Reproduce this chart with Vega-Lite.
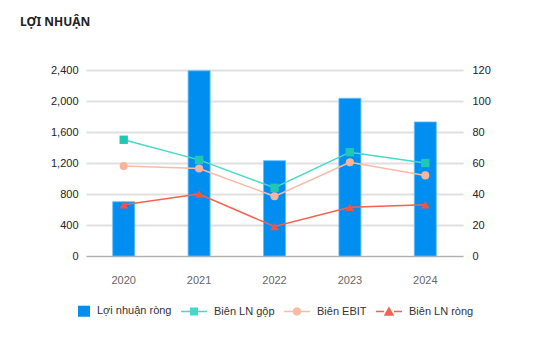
{
  "$schema": "https://vega.github.io/schema/vega-lite/v6.json",
  "width": 377,
  "height": 186,
  "padding": {"left": 20, "top": 16, "right": 10, "bottom": 10},
  "background": "white",
  "title": {"text": "LỢI NHUẬN", "anchor": "start", "frame": "group", "dx": -66, "offset": 35, "font": "Noto Sans", "fontSize": 12, "fontWeight": "bold", "color": "#222222"},
  "config": {"view": {"stroke": null},
    "legend": {"title": null, "orient": "none", "legendX": -8, "legendY": 235, "direction": "horizontal", "padding": 0,
      "symbolSize": 144, "symbolOpacity": 1, "symbolStrokeWidth": 0, "columnPadding": 9, "labelOffset": 7, "labelFont": "Liberation Sans", "labelFontSize": 11, "labelColor": "#333333"}},
  "data": {"values": [
    {"year": "2020", "series": "Lợi nhuận ròng", "value": 700},
    {"year": "2021", "series": "Lợi nhuận ròng", "value": 2390},
    {"year": "2022", "series": "Lợi nhuận ròng", "value": 1230},
    {"year": "2023", "series": "Lợi nhuận ròng", "value": 2035},
    {"year": "2024", "series": "Lợi nhuận ròng", "value": 1730},
    {"year": "2020", "series": "Biên LN gộp", "value": 75},
    {"year": "2021", "series": "Biên LN gộp", "value": 62},
    {"year": "2022", "series": "Biên LN gộp", "value": 44},
    {"year": "2023", "series": "Biên LN gộp", "value": 67},
    {"year": "2024", "series": "Biên LN gộp", "value": 60},
    {"year": "2020", "series": "Biên EBIT", "value": 58},
    {"year": "2021", "series": "Biên EBIT", "value": 56.5},
    {"year": "2022", "series": "Biên EBIT", "value": 38.5},
    {"year": "2023", "series": "Biên EBIT", "value": 60.5},
    {"year": "2024", "series": "Biên EBIT", "value": 52},
    {"year": "2020", "series": "Biên LN ròng", "value": 33},
    {"year": "2021", "series": "Biên LN ròng", "value": 40},
    {"year": "2022", "series": "Biên LN ròng", "value": 19},
    {"year": "2023", "series": "Biên LN ròng", "value": 31.5},
    {"year": "2024", "series": "Biên LN ròng", "value": 33}
  ]},
  "encoding": {
    "x": {"field": "year", "type": "ordinal", "title": null,
      "scale": {"paddingInner": 0, "paddingOuter": 0},
      "axis": {"labelAngle": 0, "ticks": false, "domain": true, "domainColor": "#b0b0b0", "domainWidth": 1, "labelPadding": 18, "labelFont": "Liberation Sans", "labelFontSize": 11, "labelColor": "#666666", "grid": false}}
  },
  "layer": [
    {
      "transform": [{"filter": "datum.series == 'Lợi nhuận ròng'"}],
      "mark": {"type": "bar", "size": 22, "stroke": "#63bdff", "strokeWidth": 0.8},
      "encoding": {
        "y": {"field": "value", "type": "quantitative", "title": null,
          "scale": {"domain": [0, 2400], "nice": false},
          "axis": {"values": [0, 400, 800, 1200, 1600, 2000, 2400], "format": ",.0f", "ticks": false, "domain": false, "gridColor": "#e0e0e0", "gridWidth": 2, "labelPadding": 8, "labelFont": "Liberation Sans", "labelFontSize": 11, "labelColor": "#222222"}},
        "color": {"field": "series", "type": "nominal",
          "scale": {"domain": ["Lợi nhuận ròng", "Biên LN gộp", "Biên EBIT", "Biên LN ròng"], "range": ["#008ff0", "#45d9c8", "#f9bba6", "#f6604f"]}}
      }
    },
    {
      "transform": [{"filter": "datum.series != 'Lợi nhuận ròng'"}],
      "mark": {"type": "line", "strokeWidth": 1.5},
      "encoding": {
        "y": {"field": "value", "type": "quantitative", "title": null,
          "scale": {"domain": [0, 120], "nice": false},
          "axis": {"orient": "right", "values": [0, 20, 40, 60, 80, 100, 120], "ticks": false, "domain": false, "grid": false, "labelPadding": 9, "labelFont": "Liberation Sans", "labelFontSize": 11, "labelColor": "#222222"}},
        "color": {"field": "series", "type": "nominal"},
        "detail": {"field": "series"}
      }
    },
    {
      "transform": [{"filter": "datum.year == '2020'"}],
      "mark": {"type": "point", "filled": true, "opacity": 0, "size": 144},
      "encoding": {
        "y": {"value": 0},
        "color": {"field": "series", "type": "nominal"},
        "shape": {"field": "series", "type": "nominal",
          "scale": {"domain": ["Lợi nhuận ròng", "Biên LN gộp", "Biên EBIT", "Biên LN ròng"],
            "range": [
              "M-1,-0.92H1V0.92H-1Z",
              "M-3.33,-0.12H-1.85V0.12H-3.33Z M-0.5,-0.12H1V0.12H-0.5Z M-1.85,-0.68H-0.5V0.68H-1.85Z",
              "M-3.33,-0.12H-1.87V0.12H-3.33Z M-0.47,-0.12H1V0.12H-0.47Z M-1.87,0A0.7,0.7 0 1,1 -0.47,0A0.7,0.7 0 1,1 -1.87,0Z",
              "M-3.33,-0.12H-2V0.12H-3.33Z M-0.34,-0.12H1V0.12H-0.34Z M-1.17,-0.85L-0.3,0.7L-2.04,0.7Z"
            ]}}
      }
    },
    {
      "transform": [{"filter": "datum.series == 'Biên LN gộp'"}],
      "mark": {"type": "point", "filled": true, "opacity": 1, "size": 70, "shape": "square", "color": "#1fc8b2"},
      "encoding": {
        "y": {"field": "value", "type": "quantitative", "scale": {"domain": [0, 120], "nice": false}, "axis": null}
      }
    },
    {
      "transform": [{"filter": "datum.series == 'Biên EBIT'"}],
      "mark": {"type": "point", "filled": true, "opacity": 1, "size": 65, "shape": "circle", "color": "#fab39d"},
      "encoding": {
        "y": {"field": "value", "type": "quantitative", "scale": {"domain": [0, 120], "nice": false}, "axis": null}
      }
    },
    {
      "transform": [{"filter": "datum.series == 'Biên LN ròng'"}],
      "mark": {"type": "point", "filled": true, "opacity": 1, "size": 75, "shape": "triangle-up", "color": "#f4533f"},
      "encoding": {
        "y": {"field": "value", "type": "quantitative", "scale": {"domain": [0, 120], "nice": false}, "axis": null}
      }
    }
  ],
  "resolve": {"scale": {"y": "independent"}}
}
